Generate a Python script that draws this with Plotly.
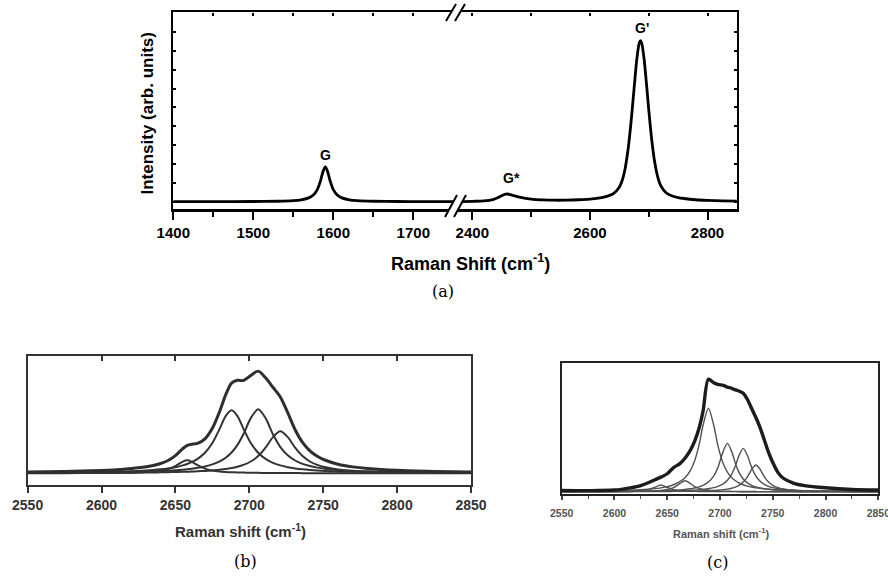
import plotly.graph_objects as go

W, H = 888, 576

# ---------------- (a) Raman spectrum with a broken wavenumber axis ----------------
shift_lo = [1400, 1450, 1500, 1530, 1550, 1560, 1570, 1575, 1580, 1584, 1587, 1590,
            1593, 1596, 1600, 1605, 1610, 1620, 1630, 1650, 1680, 1710, 1750]
intens_lo = [0.33, 0.35, 0.42, 0.57, 0.89, 1.33, 2.46, 3.82, 6.7, 11.28, 16.04, 18.7,
             16.04, 11.28, 6.7, 3.82, 2.46, 1.33, 0.89, 0.57, 0.42, 0.37, 0.34]

shift_hi = [2375, 2400, 2420, 2435, 2445, 2450, 2455, 2460, 2465, 2470,
            2480, 2500, 2520, 2540, 2560, 2580, 2600, 2620, 2630, 2640,
            2650, 2655, 2660, 2665, 2670, 2675, 2680, 2684, 2686, 2688,
            2692, 2696, 2700, 2705, 2710, 2715, 2720, 2730, 2740, 2750,
            2760, 2780, 2800, 2825, 2850]
intens_hi = [0.4, 0.52, 0.74, 1.46, 2.67, 3.47, 4.18, 4.39, 4.0, 3.51,
             2.73, 1.68, 1.25, 1.1, 1.15, 1.34, 1.71, 2.5, 3.25, 4.6,
             7.9, 11.6, 18.0, 28.1, 42.4, 59.6, 76.0, 84.1, 85.2, 84.1,
             76.0, 63.2, 49.1, 33.4, 21.6, 13.8, 9.1, 4.9, 3.35, 2.5,
             2.0, 1.36, 1.03, 0.79, 0.66]

peak_names = ["G", "G*", "G'"]
peak_pos = [1590, 2466, 2688]
peak_label_y = [25, 13, 92]

ticks_lo = [1400, 1500, 1600, 1700]
ticks_hi = [2400, 2600, 2800]

# ---------------- (b) G' band fitted with four components ----------------
shift_b = [2550, 2575, 2600, 2615, 2625, 2635, 2640, 2645, 2650, 2655, 2658, 2661,
           2665, 2670, 2675, 2680, 2684, 2688, 2692, 2696, 2701, 2706, 2711, 2716,
           2721, 2726, 2731, 2736, 2741, 2746, 2751, 2760, 2770, 2780, 2800, 2825, 2850]
meas_b = [0.0123, 0.018, 0.0288, 0.0411, 0.0548, 0.0784, 0.0979, 0.1281, 0.177, 0.2468,
          0.2797, 0.2914, 0.2988, 0.3447, 0.4498, 0.6212, 0.7845, 0.9019, 0.9297, 0.9279,
          0.9781, 1.0217, 0.9549, 0.8601, 0.7639, 0.6056, 0.4351, 0.3085, 0.2251, 0.1702,
          0.1331, 0.0911, 0.0643, 0.0479, 0.0296, 0.0186, 0.0127]
comp_b1 = [0.0051, 0.0076, 0.0125, 0.0179, 0.0239, 0.0332, 0.04, 0.0491, 0.0615, 0.079,
           0.0932, 0.1111, 0.1435, 0.2052, 0.3029, 0.4468, 0.5715, 0.63, 0.5715, 0.4468,
           0.3029, 0.2052, 0.1435, 0.1047, 0.079, 0.0615, 0.0491, 0.04, 0.0332, 0.028,
           0.0239, 0.0184, 0.0143, 0.0114, 0.0077, 0.0052, 0.0037]
comp_b2 = [0.0041, 0.0058, 0.0088, 0.0119, 0.0149, 0.0192, 0.0221, 0.0258, 0.0303, 0.0363,
           0.0406, 0.0458, 0.0544, 0.0689, 0.0895, 0.1201, 0.1561, 0.2085, 0.2839, 0.3902,
           0.5517, 0.64, 0.5517, 0.3902, 0.2623, 0.1798, 0.128, 0.0947, 0.0724, 0.0569,
           0.0458, 0.0326, 0.0235, 0.0178, 0.0111, 0.007, 0.0048]
comp_b3 = [0.0022, 0.0031, 0.0044, 0.0058, 0.007, 0.0087, 0.0098, 0.0111, 0.0126, 0.0145,
           0.0159, 0.0175, 0.0199, 0.0238, 0.0289, 0.0357, 0.043, 0.0527, 0.0658, 0.084,
           0.118, 0.1721, 0.2561, 0.3621, 0.42, 0.3621, 0.2561, 0.1721, 0.118, 0.084,
           0.0622, 0.0391, 0.0257, 0.018, 0.0103, 0.006, 0.0039]
comp_b4 = [0.0009, 0.0015, 0.0031, 0.0055, 0.009, 0.0173, 0.026, 0.0421, 0.0726, 0.117,
           0.13, 0.117, 0.081, 0.0468, 0.0285, 0.0186, 0.0139, 0.0107, 0.0085, 0.0069,
           0.0055, 0.0044, 0.0036, 0.0031, 0.0026, 0.0022, 0.0019, 0.0017, 0.0015, 0.0013,
           0.0012, 0.001, 0.0008, 0.0007, 0.0005, 0.0004, 0.0003]

# ---------------- (c) G' band fitted with six components ----------------
shift_c = [2550, 2575, 2600, 2615, 2625, 2632, 2638, 2644, 2650, 2656, 2662, 2667, 2672,
           2676, 2680, 2684, 2689, 2694, 2698, 2703, 2707, 2711, 2715, 2718, 2722, 2726,
           2730, 2734, 2738, 2742, 2746, 2750, 2755, 2760, 2770, 2780, 2800, 2825, 2850]
meas_c = [0.012, 0.01, 0.015, 0.035, 0.055, 0.08, 0.105, 0.13, 0.16, 0.215, 0.25, 0.3, 0.37,
          0.45, 0.56, 0.72, 1.0, 0.97, 0.955, 0.945, 0.93, 0.92, 0.905, 0.895, 0.875, 0.82,
          0.74, 0.66, 0.57, 0.46, 0.35, 0.26, 0.17, 0.12, 0.075, 0.055, 0.035, 0.02, 0.015]
comp_c1 = [0.0004, 0.0008, 0.0019, 0.0042, 0.009, 0.0185, 0.0384, 0.06, 0.0384, 0.0185,
           0.0099, 0.0065, 0.0045, 0.0035, 0.0028, 0.0023, 0.0018, 0.0015, 0.0013, 0.0011,
           0.001, 0.0008, 0.0007, 0.0007, 0.0006, 0.0006, 0.0005, 0.0005, 0.0004, 0.0004,
           0.0004, 0.0004, 0.0003, 0.0003, 0.0003, 0.0003, 0.0002, 0.0002, 0.0002]
comp_c2 = [0.0005, 0.0008, 0.0016, 0.0026, 0.0039, 0.0055, 0.0078, 0.0118, 0.0196, 0.0366,
           0.0728, 0.098, 0.0728, 0.0462, 0.0293, 0.0196, 0.0127, 0.0088, 0.0069, 0.0052,
           0.0042, 0.0035, 0.003, 0.0026, 0.0023, 0.002, 0.0018, 0.0016, 0.0014, 0.0012,
           0.0011, 0.001, 0.0009, 0.0008, 0.0007, 0.0005, 0.0004, 0.0003, 0.0003]
comp_c3 = [0.0038, 0.0057, 0.0093, 0.0133, 0.0177, 0.0221, 0.0275, 0.0349, 0.0458, 0.0624,
           0.0895, 0.127, 0.1907, 0.2758, 0.4099, 0.5936, 0.742, 0.5936, 0.4099, 0.2507,
           0.175, 0.127, 0.0956, 0.0789, 0.0624, 0.0505, 0.0417, 0.0349, 0.0297, 0.0255,
           0.0221, 0.0194, 0.0166, 0.0144, 0.0111, 0.0089, 0.006, 0.004, 0.0029]
comp_c4 = [0.0014, 0.002, 0.003, 0.0041, 0.0051, 0.0061, 0.0072, 0.0086, 0.0105, 0.013,
           0.0165, 0.0207, 0.0267, 0.0334, 0.043, 0.0571, 0.086, 0.1392, 0.215, 0.3591,
           0.43, 0.3591, 0.2402, 0.1724, 0.1138, 0.0788, 0.0571, 0.043, 0.0334, 0.0267,
           0.0217, 0.0181, 0.0146, 0.012, 0.0086, 0.0064, 0.004, 0.0025, 0.0017]
comp_c5 = [0.0011, 0.0014, 0.0021, 0.0027, 0.0033, 0.0038, 0.0044, 0.0051, 0.0059, 0.007,
           0.0085, 0.0101, 0.0121, 0.0142, 0.0169, 0.0205, 0.0267, 0.0361, 0.0476, 0.0707,
           0.1021, 0.1548, 0.2405, 0.3223, 0.386, 0.3223, 0.2156, 0.139, 0.0928, 0.065,
           0.0476, 0.0361, 0.0267, 0.0205, 0.0131, 0.0091, 0.0051, 0.0029, 0.0019]
comp_c6 = [0.0006, 0.0008, 0.0011, 0.0014, 0.0016, 0.0018, 0.0021, 0.0024, 0.0027, 0.0031,
           0.0037, 0.0042, 0.0049, 0.0056, 0.0064, 0.0075, 0.0092, 0.0115, 0.014, 0.0185,
           0.0238, 0.0316, 0.0436, 0.0572, 0.0857, 0.133, 0.1988, 0.238, 0.1988, 0.133,
           0.0857, 0.0572, 0.037, 0.0255, 0.014, 0.0088, 0.0043, 0.0023, 0.0014]

ticks_bc = [2550, 2600, 2650, 2700, 2750, 2800, 2850]


def fx(p):
    """pixel column -> paper fraction"""
    return p / W


def fy(p):
    """pixel row (from top) -> paper fraction"""
    return 1 - p / H


fig = go.Figure()

spec_line = dict(color="black", width=2.8, shape="spline", smoothing=0.8)
fig.add_trace(go.Scatter(x=shift_lo, y=intens_lo, xaxis="x", yaxis="y", mode="lines",
                         line=spec_line, hoverinfo="skip"))
fig.add_trace(go.Scatter(x=shift_hi, y=intens_hi, xaxis="x2", yaxis="y2", mode="lines",
                         line=spec_line, hoverinfo="skip"))

for comp in [comp_b1, comp_b2, comp_b3, comp_b4]:
    fig.add_trace(go.Scatter(x=shift_b, y=comp, xaxis="x3", yaxis="y3", mode="lines",
                             line=dict(color="#333333", width=2, shape="spline", smoothing=0.8),
                             hoverinfo="skip"))
fig.add_trace(go.Scatter(x=shift_b, y=meas_b, xaxis="x3", yaxis="y3", mode="lines",
                         line=dict(color="#2e2e2e", width=3, shape="spline", smoothing=0.8),
                         hoverinfo="skip"))

for comp in [comp_c1, comp_c2, comp_c3, comp_c4, comp_c5, comp_c6]:
    fig.add_trace(go.Scatter(x=shift_c, y=comp, xaxis="x4", yaxis="y4", mode="lines",
                             line=dict(color="#505050", width=1.4, shape="spline", smoothing=0.8),
                             hoverinfo="skip"))
fig.add_trace(go.Scatter(x=shift_c, y=meas_c, xaxis="x4", yaxis="y4", mode="lines",
                         line=dict(color="#1c1c1c", width=3.4, shape="spline", smoothing=0.8),
                         hoverinfo="skip"))

# placeholder traces so the top (inner-tick) frame axes get drawn
for xa, ya, x0 in [("x5", "y", 1400), ("x6", "y2", 2400), ("x7", "y3", 2550)]:
    fig.add_trace(go.Scatter(x=[x0], y=[None], xaxis=xa, yaxis=ya, mode="lines",
                             hoverinfo="skip", showlegend=False))

base_ax = dict(showgrid=False, zeroline=False, showline=True, automargin=False,
               ticklabeloverflow="allow")
bold15 = dict(family="Liberation Sans, Arial, sans-serif", size=15, color="black", weight="bold")

# panel (a) geometry
a_top, a_bot = 12.3, 209
a_yrange = [-3.53, 100.2]

fig.update_layout(
    template="none",
    width=W, height=H, margin=dict(l=0, r=0, t=0, b=0, pad=0), autosize=False,
    paper_bgcolor="white", plot_bgcolor="rgba(0,0,0,0)", showlegend=False,
    xaxis=dict(base_ax, domain=[fx(173.3), fx(453.3)], range=[1400, 1750], anchor="y",
               linecolor="black", linewidth=3, ticks="outside", ticklen=8, tickwidth=2,
               tickcolor="black", tickvals=ticks_lo, tickfont=bold15,
               minor=dict(ticks="outside", dtick=50, tick0=1400, ticklen=5, tickwidth=2,
                          tickcolor="black")),
    xaxis2=dict(base_ax, domain=[fx(457.6), fx(736.9)], range=[2375, 2850], anchor="y2",
                linecolor="black", linewidth=3, ticks="outside", ticklen=8, tickwidth=2,
                tickcolor="black", tickvals=ticks_hi, tickfont=bold15,
                minor=dict(ticks="outside", dtick=100, tick0=2400, ticklen=5, tickwidth=2,
                           tickcolor="black")),
    xaxis5=dict(base_ax, overlaying="x", side="top", anchor="y", range=[1400, 1750],
                linecolor="black", linewidth=2.4, ticks="inside", ticklen=3, tickwidth=1.5,
                tickcolor="black", tickvals=[1450, 1500, 1550, 1600, 1650, 1700],
                showticklabels=False),
    xaxis6=dict(base_ax, overlaying="x2", side="top", anchor="y2", range=[2375, 2850],
                linecolor="black", linewidth=2.4, ticks="inside", ticklen=3, tickwidth=1.5,
                tickcolor="black", tickvals=[2400, 2500, 2600, 2700, 2800],
                showticklabels=False),
    yaxis=dict(base_ax, domain=[fy(a_bot), fy(a_top)], range=a_yrange, anchor="x",
               linecolor="black", linewidth=2.2, ticks="inside", ticklen=3, tickwidth=1.5,
               tickcolor="black", tickvals=list(range(0, 100, 10)), showticklabels=False),
    yaxis2=dict(base_ax, domain=[fy(a_bot), fy(a_top)], range=a_yrange, anchor="x2",
                side="right", linecolor="black", linewidth=2.2, ticks="inside", ticklen=3,
                tickwidth=1.5, tickcolor="black", tickvals=list(range(0, 100, 10)),
                showticklabels=False),
    # panel (b)
    xaxis3=dict(base_ax, domain=[fx(27.6), fx(471)], range=[2550, 2850], anchor="y3",
                linecolor="#333333", linewidth=2, mirror=True, ticks="outside", ticklen=6,
                tickwidth=2, tickcolor="#333333", tickvals=ticks_bc,
                tickfont=dict(family="Liberation Sans, Arial, sans-serif", size=14,
                              color="#333333", weight="bold")),
    xaxis7=dict(base_ax, overlaying="x3", side="top", anchor="y3", range=[2550, 2850],
                linecolor="#333333", linewidth=2, ticks="inside", ticklen=5, tickwidth=2,
                tickcolor="#333333", tickvals=ticks_bc, showticklabels=False),
    yaxis3=dict(base_ax, domain=[fy(485), fy(356)], range=[-0.117, 1.173], anchor="x3",
                linecolor="#333333", linewidth=2, mirror=True, showticklabels=False,
                ticks=""),
    # panel (c)
    xaxis4=dict(base_ax, domain=[fx(561.7), fx(878.3)], range=[2550, 2850], anchor="y4",
                linecolor="#222222", linewidth=2, mirror=True, ticks="outside", ticklen=4,
                tickwidth=1.5, tickcolor="#444444", tickvals=ticks_bc,
                ticklabelstandoff=4,
                tickfont=dict(family="Liberation Sans, Arial, sans-serif", size=10.5,
                              color="#555555", weight="bold"),
                minor=dict(ticks="outside", dtick=25, tick0=2550, ticklen=3, tickwidth=1.2,
                           tickcolor="#555555")),
    yaxis4=dict(base_ax, domain=[fy(494), fy(363.3)], range=[-0.02, 1.142], anchor="x4",
                linecolor="#222222", linewidth=2, mirror=True, showticklabels=False,
                ticks=""),
)

# ---- text ----
ann = []
for name, xp, yl, xr, yr in zip(peak_names, peak_pos, peak_label_y,
                                ["x", "x2", "x2"], ["y", "y2", "y2"]):
    ann.append(dict(x=xp, y=yl, xref=xr, yref=yr, text="<b>" + name + "</b>", showarrow=False,
                    xanchor="center", yanchor="middle",
                    font=dict(family="Liberation Sans, Arial, sans-serif", size=14,
                              color="black")))


def label(px, py, text, size, color="black", family="Liberation Sans, Arial, sans-serif",
          angle=0):
    return dict(x=fx(px), y=fy(py), xref="paper", yref="paper", text=text,
                showarrow=False, xanchor="center", yanchor="middle", textangle=angle,
                font=dict(family=family, size=size, color=color))


serif = "DejaVu Serif, serif"
ann += [
    label(147.5, 114, "<b>Intensity (arb. units)</b>", 17, angle=-90),
    label(470, 262, "<b>Raman Shift (cm<sup>-1</sup>)</b>", 18),
    label(443, 291, "(a)", 16, family=serif),
    label(240.5, 530, "<b>Raman shift (cm<sup>-1</sup>)</b>", 15, color="#333333"),
    label(245, 561, "(b)", 16, family=serif),
    label(720.5, 532.7, "<b>Raman shift (cm<sup>-1</sup>)</b>", 11, color="#555555"),
    label(717.5, 562, "(c)", 16, family=serif),
]
fig.update_layout(annotations=ann)


# ---- axis-break marks on panel (a) ----
def brk(x0, y0, x1, y1, dx):
    """white gap between two parallel slashes, then the slashes themselves"""
    out = [dict(type="path", xref="paper", yref="paper", layer="above",
                path=f"M {fx(x0)} {fy(y0)} L {fx(x1)} {fy(y1)} L {fx(x1 + dx)} {fy(y1)} "
                     f"L {fx(x0 + dx)} {fy(y0)} Z",
                fillcolor="white", line=dict(width=0))]
    for off in (0, dx):
        out.append(dict(type="line", xref="paper", yref="paper", layer="above",
                        x0=fx(x0 + off), y0=fy(y0), x1=fx(x1 + off), y1=fy(y1),
                        line=dict(color="black", width=2)))
    return out


shapes = brk(446, 21, 456, 4, 9) + brk(445, 217, 457, 195, 9)
fig.update_layout(shapes=shapes)

fig.write_html("out.html")
